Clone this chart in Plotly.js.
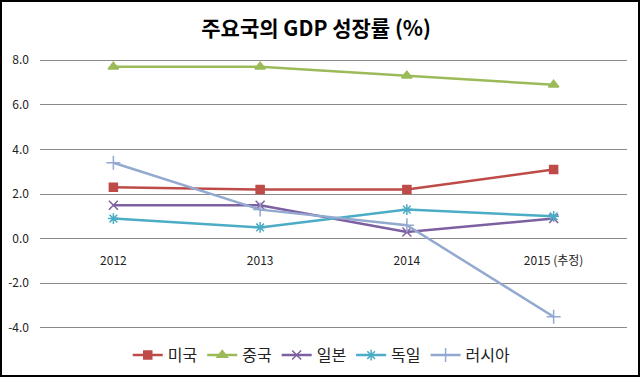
<!DOCTYPE html>
<html>
<head>
<meta charset="utf-8">
<script src="https://cdn.plot.ly/plotly-3.0.1.min.js"></script>
<style>
  html, body { margin: 0; padding: 0; background: #fff; }
  #wrap { position: relative; width: 640px; height: 377px; }
  #chart { width: 640px; height: 377px; }
  #frame { position: absolute; left: 0; top: 0; width: 640px; height: 377px; box-sizing: border-box; border: 2px solid #000; pointer-events: none; }
</style>
</head>
<body>
<div id="wrap"><div id="chart"></div><div id="frame"></div></div>
<script>
const categories = ['2012', '2013', '2014', '2015 (추정)'];
const seriesNames = ['미국', '중국', '일본', '독일', '러시아'];
const usa = [2.3, 2.2, 2.2, 3.1];
const china = [7.7, 7.7, 7.3, 6.9];
const japan = [1.5, 1.5, 0.3, 0.9];
const germany = [0.9, 0.5, 1.3, 1.0];
const russia = [3.4, 1.3, 0.6, -3.5];
const yTickVals = [-4, -2, 0, 2, 4, 6, 8];
const yTickText = ['-4.0', '-2.0', '0.0', '2.0', '4.0', '6.0', '8.0'];

const seriesValues = [usa, china, japan, germany, russia];
const colors = ['#BE4B48', '#9BBB59', '#7D60A0', '#4BACC6', '#93A9CF'];
const symbols = ['square', 'triangle-up', 'x-thin-open', 'asterisk-open', 'cross-thin-open'];
const sizes = [8, 9, 9, 9, 10];

const font = '"Noto Sans CJK KR", "Open Sans", sans-serif';

const traces = seriesValues.map((vals, i) => ({
  type: 'scatter',
  mode: 'lines+markers',
  name: seriesNames[i],
  x: categories,
  y: vals,
  line: { color: colors[i], width: 2.5 },
  marker: { symbol: symbols[i], size: sizes[i], color: colors[i], line: { color: colors[i], width: 1.5 } }
}));

const layout = {
  width: 640, height: 377,
  margin: { l: 40, r: 13, t: 59, b: 48, autoexpand: false },
  paper_bgcolor: '#fff', plot_bgcolor: '#fff',
  title: { text: '<b>주요국의 GDP 성장률 (%)</b>', font: { family: font, size: 21, color: '#000' }, x: 0.494, xanchor: 'center', y: 0.925, yanchor: 'middle' },
  xaxis: {
    type: 'category', range: [-0.5, 3.5], anchor: 'free', position: 4.05/12.1,
    showgrid: false, zeroline: false, showline: false, ticks: '',
    ticklabelstandoff: 13,
    tickfont: { family: font, size: 12, color: '#222' }
  },
  yaxis: {
    range: [-4.05, 8.05], tickvals: yTickVals, ticktext: yTickText,
    showgrid: true, gridcolor: '#8a8a8a', gridwidth: 1, zeroline: false, showline: false, ticks: '',
    ticklabelstandoff: 10,
    tickfont: { family: font, size: 12, color: '#222' }
  },
  showlegend: true,
  legend: {
    orientation: 'h', x: 0.48, xanchor: 'center', yref: 'container', y: 0.058, yanchor: 'middle',
    font: { family: font, size: 16, color: '#222' },
    itemwidth: 30, tracegroupgap: 0
  }
};

Plotly.newPlot('chart', traces, layout, { displayModeBar: false, staticPlot: true });
</script>
</body>
</html>
